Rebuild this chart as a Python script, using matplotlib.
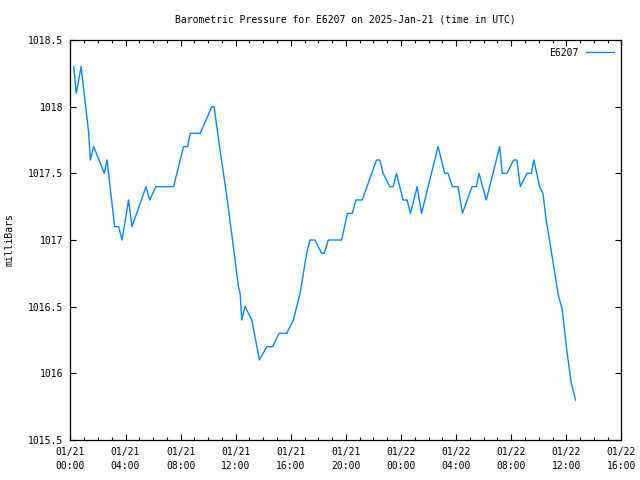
import matplotlib
matplotlib.use('Agg')
import matplotlib.pyplot as plt
from matplotlib.ticker import MultipleLocator

plt.rcParams['font.family'] = 'DejaVu Sans Mono'
plt.rcParams['font.size'] = 7

# hours since 2025-01-21 00:00 UTC, pressure in mb
hours = [0.24, 0.43, 0.78, 1.33, 1.45, 1.69, 2.46, 2.66, 3.21, 3.5, 3.75,
         4.22, 4.47, 5.49, 5.75, 6.21, 7.49, 8.21, 8.5, 8.7, 9.42, 10.27,
         10.43, 10.6, 10.87, 11.35, 11.83, 12.2, 12.32, 12.44, 12.68, 13.17,
         13.72, 14.25, 14.69, 15.14, 15.7, 16.18, 16.67, 17.15, 17.39, 17.75,
         18.24, 18.43, 18.72, 19.69, 20.11, 20.47, 20.72, 21.18, 22.22, 22.46,
         22.7, 23.19, 23.43, 23.67, 24.15, 24.44, 24.69, 25.17, 25.49, 26.69,
         27.17, 27.41, 27.73, 28.14, 28.46, 29.15, 29.47, 29.66, 30.19, 31.16,
         31.35, 31.69, 32.17, 32.41, 32.66, 33.14, 33.46, 33.64, 34.06, 34.3,
         34.54, 34.78, 35.41, 35.7, 36.0, 36.35, 36.67]
pressure = [1018.3, 1018.1, 1018.3, 1017.8, 1017.6, 1017.7, 1017.5, 1017.6,
            1017.1, 1017.1, 1017.0, 1017.3, 1017.1, 1017.4, 1017.3, 1017.4,
            1017.4, 1017.7, 1017.7, 1017.8, 1017.8, 1018.0, 1018.0, 1017.87,
            1017.67, 1017.33, 1016.95, 1016.65, 1016.6, 1016.4, 1016.5, 1016.4,
            1016.1, 1016.2, 1016.2, 1016.3, 1016.3, 1016.4, 1016.6, 1016.9,
            1017.0, 1017.0, 1016.9, 1016.9, 1017.0, 1017.0, 1017.2, 1017.2,
            1017.3, 1017.3, 1017.6, 1017.6, 1017.5, 1017.4, 1017.4, 1017.5,
            1017.3, 1017.3, 1017.2, 1017.4, 1017.2, 1017.7, 1017.5, 1017.5,
            1017.4, 1017.4, 1017.2, 1017.4, 1017.4, 1017.5, 1017.3, 1017.7,
            1017.5, 1017.5, 1017.6, 1017.6, 1017.4, 1017.5, 1017.5, 1017.6,
            1017.4, 1017.35, 1017.15, 1017.0, 1016.59, 1016.48, 1016.2,
            1015.93, 1015.8]

tick_hours = [0, 4, 8, 12, 16, 20, 24, 28, 32, 36, 40]
tick_labels = ['01/21\n00:00', '01/21\n04:00', '01/21\n08:00', '01/21\n12:00',
               '01/21\n16:00', '01/21\n20:00', '01/22\n00:00', '01/22\n04:00',
               '01/22\n08:00', '01/22\n12:00', '01/22\n16:00']

fig = plt.figure(figsize=(6.4, 4.8), dpi=100)
ax = fig.add_axes([0.110, 0.0833, 0.861, 0.8334])

ax.plot(hours, pressure, color='#0a84ff', linewidth=1.0, label='E6207')

ax.set_xlim(0, 40)
ax.set_ylim(1015.5, 1018.5)
ax.set_xticks(tick_hours)
ax.set_xticklabels(tick_labels, linespacing=1.5)
ax.xaxis.set_minor_locator(MultipleLocator(1))
ax.set_yticks([1015.5, 1016, 1016.5, 1017, 1017.5, 1018, 1018.5])
ax.set_yticklabels(['1015.5', '1016', '1016.5', '1017', '1017.5', '1018', '1018.5'])

ax.tick_params(which='both', direction='in', top=True, right=True, width=0.8)
ax.tick_params(which='major', length=4.5, pad=5)
ax.tick_params(which='minor', length=2.2)
for s in ax.spines.values():
    s.set_linewidth(0.9)

fig.text(10 / 640, 0.5, 'milliBars', rotation=90, ha='center', va='center')
fig.text(345 / 640, 1 - 19 / 480, 'Barometric Pressure for E6207 on 2025-Jan-21 (time in UTC)',
         ha='center', va='center')

leg = ax.legend(loc='upper right', frameon=False, handlelength=2.8,
                handletextpad=0.8, borderaxespad=0.4, markerfirst=False)

fig.savefig('out.png', dpi=100)
